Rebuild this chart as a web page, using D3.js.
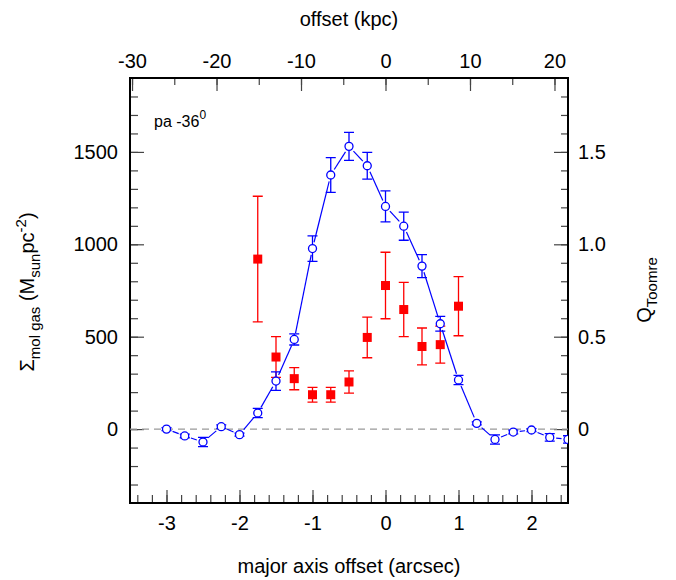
<!DOCTYPE html>
<html>
<head>
<meta charset="utf-8">
<script src="https://cdn.jsdelivr.net/npm/d3@7"></script>
<style>
  body { margin: 0; background: #fff; }
  text { font-family: "Liberation Sans", Arial, Helvetica, sans-serif; fill: #000; }
</style>
</head>
<body>
<svg width="676" height="580"></svg>
<script>
    // Molecular gas surface density along the major axis (blue, left axis)
    var offsets  = [-3.0, -2.75, -2.5, -2.25, -2.0, -1.75, -1.5, -1.25, -1.0, -0.75, -0.5, -0.25,
                    0.0, 0.25, 0.5, 0.75, 1.0, 1.25, 1.5, 1.75, 2.0, 2.25, 2.5];
    var sigmaGas = [0, -37, -70, 13, -30, 87, 260, 485, 977, 1375, 1530, 1425,
                    1205, 1098, 882, 570, 266, 31, -56, -16, -5, -45, -56];
    var sigmaErr = [8, 10, 25, 10, 8, 25, 50, 30, 69, 94, 76, 72,
                    84, 76, 62, 40, 25, 8, 25, 10, 8, 20, 20];

    // Toomre Q (red, right axis)
    var qOffsets = [-1.75, -1.5, -1.25, -1.0, -0.75, -0.5, -0.25, 0.0, 0.25, 0.5, 0.75, 1.0];
    var qToomre  = [0.92, 0.39, 0.273, 0.186, 0.186, 0.255, 0.496, 0.777, 0.647, 0.447, 0.457, 0.665];
    var qErr     = [0.34, 0.11, 0.06, 0.04, 0.04, 0.06, 0.11, 0.18, 0.147, 0.10, 0.10, 0.16];

    // Tick labels
    var bottomLabels = [-3, -2, -1, 0, 1, 2];
    var topLabels    = [-30, -20, -10, 0, 10, 20];
    var leftLabels   = [0, 500, 1000, 1500];
    var rightLabels  = [0, 0.5, 1.0, 1.5];

    var kpcPerArcsec = 8.64;

    var svg = d3.select("svg"),
        width = +svg.attr("width"),
        height = +svg.attr("height");

    var box = {left: 130, right: 568, top: 78, bottom: 503};

    // Scales
    var x = d3.scaleLinear().domain([-3.5, 2.5]).range([box.left, box.right]);
    var xKpc = d3.scaleLinear().domain([-3.5 * kpcPerArcsec, 2.5 * kpcPerArcsec]).range([box.left, box.right]);
    var y = d3.scaleLinear().domain([-400, 1900]).range([box.bottom, box.top]);
    var yQ = d3.scaleLinear().domain([-0.4, 1.9]).range([box.bottom, box.top]);

    var fmt = function(d) { return String(d); };
    var fmtQ = function(d) { return d === 0 ? "0" : d.toFixed(1); };

    // helper: draw an axis group with minor + major ticks
    function drawAxis(axisFn, scale, pos, minor, major, minorLen, majorLen, labelFmt, pad) {
        svg.append("g")
            .attr("class", "minor")
            .attr("transform", pos)
            .call(axisFn(scale).tickValues(minor).tickSize(-minorLen).tickFormat(""));
        var g = svg.append("g")
            .attr("class", "major")
            .attr("transform", pos)
            .call(axisFn(scale).tickValues(major).tickSize(-majorLen).tickPadding(pad).tickFormat(labelFmt));
        return g;
    }

    var bottomMinor = d3.range(-17, 13).map(function(i) { return i * 0.2; });
    var topMinor = d3.range(-6, 5).map(function(i) { return i * 5; });
    var leftMinor = d3.range(-3, 19).map(function(i) { return i * 100; });
    var rightMinor = d3.range(-3, 19).map(function(i) { return i / 10; });

    var gB = drawAxis(d3.axisBottom, x, "translate(0," + box.bottom + ")", bottomMinor, bottomLabels, 8, 13, fmt, 13);
    var gT = drawAxis(d3.axisTop, xKpc, "translate(0," + box.top + ")", topMinor, topLabels, 7, 13, fmt, 10);
    var gL = drawAxis(d3.axisLeft, y, "translate(" + box.left + ",0)", leftMinor, leftLabels, 8, 14, fmt, 12);
    var gR = drawAxis(d3.axisRight, yQ, "translate(" + box.right + ",0)", rightMinor, rightLabels, 7, 14, fmtQ, 10);

    svg.selectAll(".minor path, .major path").remove();
    svg.selectAll(".tick line").attr("stroke", "#444").attr("stroke-width", 1.2);
    svg.selectAll(".major text")
        .style("font-family", "'Liberation Sans', Arial, sans-serif")
        .style("font-size", "20px")
        .attr("fill", "#000");

    // frame
    svg.append("rect")
        .attr("x", box.left).attr("y", box.top)
        .attr("width", box.right - box.left).attr("height", box.bottom - box.top)
        .attr("fill", "none").attr("stroke", "#000").attr("stroke-width", 2);

    // clip for data
    svg.append("clipPath").attr("id", "plotClip")
        .append("rect")
        .attr("x", box.left).attr("y", box.top)
        .attr("width", box.right - box.left).attr("height", box.bottom - box.top);

    var plot = svg.append("g").attr("clip-path", "url(#plotClip)");

    // zero line
    plot.append("line")
        .attr("x1", box.left).attr("x2", box.right)
        .attr("y1", y(0)).attr("y2", y(0))
        .attr("stroke", "#999").attr("stroke-width", 1.3)
        .attr("stroke-dasharray", "7,5");

    // red Q Toomre error bars + squares
    var qData = qOffsets.map(function(o, i) { return {x: o, v: qToomre[i], e: qErr[i]}; });
    var red = plot.append("g").attr("class", "qtoomre");
    red.selectAll(".bar").data(qData).enter().append("path")
        .attr("d", function(d) {
            var cx = x(d.x), y1 = yQ(d.v + d.e), y2 = yQ(d.v - d.e);
            return "M" + (cx - 5) + "," + y1 + "H" + (cx + 5) +
                   "M" + cx + "," + y1 + "V" + y2 +
                   "M" + (cx - 5) + "," + y2 + "H" + (cx + 5);
        })
        .attr("stroke", "#f00").attr("stroke-width", 1.3).attr("fill", "none");
    red.selectAll("rect").data(qData).enter().append("rect")
        .attr("x", function(d) { return x(d.x) - 4.5; })
        .attr("y", function(d) { return yQ(d.v) - 4.5; })
        .attr("width", 9).attr("height", 9)
        .attr("fill", "#f00");

    // blue gas profile: connecting line with gaps around circles
    var gas = offsets.map(function(o, i) { return {x: o, v: sigmaGas[i], e: sigmaErr[i]}; });
    var r = 4;
    var blue = plot.append("g").attr("class", "gas");
    var segs = d3.pairs(gas);
    blue.selectAll(".seg").data(segs).enter().append("line")
        .each(function(p) {
            var x1 = x(p[0].x), y1 = y(p[0].v), x2 = x(p[1].x), y2 = y(p[1].v);
            var dx = x2 - x1, dy = y2 - y1, len = Math.sqrt(dx * dx + dy * dy);
            var g = r + 2.5;
            if (len < 2 * g) { g = len / 2; }
            d3.select(this)
                .attr("x1", x1 + dx / len * g).attr("y1", y1 + dy / len * g)
                .attr("x2", x2 - dx / len * g).attr("y2", y2 - dy / len * g);
        })
        .attr("stroke", "#00f").attr("stroke-width", 1.2);

    blue.selectAll(".bar").data(gas).enter().append("path")
        .attr("d", function(d) {
            var cx = x(d.x), y1 = y(d.v + d.e), y2 = y(d.v - d.e);
            return "M" + (cx - 5) + "," + y1 + "H" + (cx + 5) +
                   "M" + cx + "," + y1 + "V" + y2 +
                   "M" + (cx - 5) + "," + y2 + "H" + (cx + 5);
        })
        .attr("stroke", "#00f").attr("stroke-width", 1.3).attr("fill", "none");

    blue.selectAll("circle").data(gas).enter().append("circle")
        .attr("cx", function(d) { return x(d.x); })
        .attr("cy", function(d) { return y(d.v); })
        .attr("r", r)
        .attr("fill", "#fff").attr("stroke", "#00f").attr("stroke-width", 1.3);

    // position-angle note
    var pa = svg.append("text").attr("x", 154).attr("y", 127).style("font-size", "16px");
    pa.append("tspan").text("pa -36");
    pa.append("tspan").attr("dy", -8).style("font-size", "12px").text("0");

    // axis titles
    svg.append("text")
        .attr("x", (box.left + box.right) / 2).attr("y", 26)
        .attr("text-anchor", "middle").style("font-size", "20px")
        .text("offset (kpc)");

    svg.append("text")
        .attr("x", (box.left + box.right) / 2).attr("y", 573)
        .attr("text-anchor", "middle").style("font-size", "20px")
        .text("major axis offset (arcsec)");

    var yl = svg.append("text")
        .attr("transform", "translate(34,292) rotate(-90)")
        .attr("text-anchor", "middle").style("font-size", "20px");
    yl.append("tspan").text("Σ");
    yl.append("tspan").attr("dy", 6).style("font-size", "15px").text("mol gas");
    yl.append("tspan").attr("dy", -6).text(" (M");
    yl.append("tspan").attr("dy", 6).style("font-size", "15px").text("sun");
    yl.append("tspan").attr("dy", -6).text("pc");
    yl.append("tspan").attr("dy", -8).style("font-size", "15px").text("-2");
    yl.append("tspan").attr("dy", 8).text(")");

    var yr = svg.append("text")
        .attr("transform", "translate(651,290) rotate(-90)")
        .attr("text-anchor", "middle").style("font-size", "20px");
    yr.append("tspan").text("Q");
    yr.append("tspan").attr("dy", 6).style("font-size", "15px").text("Toomre");
</script>
</body>
</html>
